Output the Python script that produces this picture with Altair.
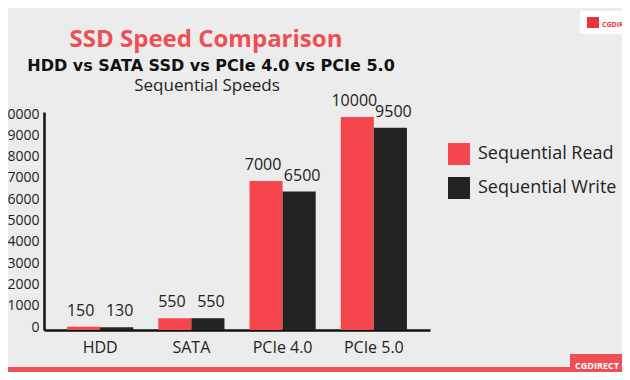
import altair as alt
import pandas as pd

categories = ["HDD", "SATA", "PCIe 4.0", "PCIe 5.0"]
series = ["Sequential Read", "Sequential Write"]
read_speeds = [150, 550, 7000, 10000]
write_speeds = [130, 550, 6500, 9500]
y_ticks = [0, 1000, 2000, 3000, 4000, 5000, 6000, 7000, 8000, 9000, 10000]
headings = ["SSD Speed Comparison", "HDD vs SATA SSD vs PCIe 4.0 vs PCIe 5.0", "Sequential Speeds"]
badge_text = "CGDIRECT"

RED = "#f5464d"
BLACK = "#232323"
FONT = "Open Sans"

rows = []
for c, r, w in zip(categories, read_speeds, write_speeds):
    rows.append({"cat": c, "series": series[0], "value": r})
    rows.append({"cat": c, "series": series[1], "value": w})
df = pd.DataFrame(rows)

x_enc = alt.X("cat:N", sort=categories, title=None,
              scale=alt.Scale(paddingInner=0.275, paddingOuter=0.253),
              axis=alt.Axis(labelAngle=0, labelFontSize=16, labelColor="#222222",
                            labelFont=FONT, labelPadding=9, ticks=False,
                            domainColor="#111111", domainWidth=2.5))
y_enc = alt.Y("value:Q", title=None,
              scale=alt.Scale(domain=[0, 10235], nice=False),
              axis=alt.Axis(values=y_ticks, format="d", labelOverlap=False,
                            labelFontSize=14, labelColor="#222222",
                            labelFont=FONT, labelPadding=5, ticks=False, grid=False,
                            domainColor="#111111", domainWidth=2.5, labelOffset=-3))
xo = alt.XOffset("series:N", sort=series, scale=alt.Scale(paddingInner=0, paddingOuter=0))

base = alt.Chart(df)
bars = base.mark_bar().encode(
    x=x_enc, y=y_enc, xOffset=xo,
    color=alt.Color("series:N", sort=series,
                    scale=alt.Scale(domain=series, range=[RED, BLACK]),
                    legend=alt.Legend(title=None, orient="none", legendX=404, legendY=31,
                                      symbolType="square", symbolSize=484,
                                      symbolStrokeWidth=0, labelFontSize=18,
                                      labelFont=FONT, labelColor="#222222",
                                      rowPadding=12, labelOffset=8)),
)
labels_read = base.transform_filter(alt.datum.series == series[0]).mark_text(
    baseline="bottom", dy=-8, dx=-3, fontSize=16, font=FONT, color="#222222").encode(
    x=x_enc, y=y_enc, xOffset=xo, text="value:Q")
labels_write = base.transform_filter(alt.datum.series == series[1]).mark_text(
    baseline="bottom", dy=-8, dx=3, fontSize=16, font=FONT, color="#222222").encode(
    x=x_enc, y=y_enc, xOffset=xo, text="value:Q")

hdf = pd.DataFrame({"t": headings, "i": [0, 1, 2]})
h1 = alt.Chart(hdf[hdf.i == 0]).mark_text(fontSize=24, fontWeight="bold", font=FONT,
                                          color="#ee4f55", align="center").encode(
    x=alt.value(162), y=alt.value(-72), text="t:N")
h2 = alt.Chart(hdf[hdf.i == 1]).mark_text(fontSize=16, fontWeight="bold", font="DejaVu Sans",
                                          color="#111111", align="center").encode(
    x=alt.value(167), y=alt.value(-46), text="t:N")
h3 = alt.Chart(hdf[hdf.i == 2]).mark_text(fontSize=17, font=FONT,
                                          color="#222222", align="center").encode(
    x=alt.value(163), y=alt.value(-26), text="t:N")

one = pd.DataFrame({"a": [0]})
stripe = alt.Chart(one).mark_rect(color="#ee4f55").encode(
    x=alt.value(-44), x2=alt.value(600), y=alt.value(255), y2=alt.value(262))
badge = alt.Chart(one).mark_rect(color="#ee4f55").encode(
    x=alt.value(526), x2=alt.value(600), y=alt.value(242), y2=alt.value(262))
badge_lbl = alt.Chart(pd.DataFrame({"t": [badge_text]})).mark_text(
    fontSize=9, fontWeight="bold", font=FONT, color="white", align="center").encode(
    x=alt.value(553), y=alt.value(254), text="t:N")
logo_bg = alt.Chart(one).mark_rect(color="white", cornerRadius=3).encode(
    x=alt.value(536), x2=alt.value(600), y=alt.value(-101), y2=alt.value(-78))
logo_mark = alt.Chart(one).mark_rect(color="#e8343b").encode(
    x=alt.value(543), x2=alt.value(555), y=alt.value(-95), y2=alt.value(-84))
logo_txt = alt.Chart(pd.DataFrame({"t": [badge_text]})).mark_text(
    fontSize=7, fontWeight="bold", font=FONT, color="#e8343b", align="left").encode(
    x=alt.value(558), y=alt.value(-87), text="t:N")

chart = alt.layer(bars, labels_read, labels_write, h1, h2, h3, stripe, badge, badge_lbl,
                  logo_bg, logo_mark, logo_txt).properties(
    width=386, height=218,
    autosize=alt.AutoSizeParams(type="none"),
    padding={"left": 36, "top": 104, "right": 192, "bottom": 42},
    background="#ececec",
).configure_view(stroke=None)

chart.save("out.html", embed_options={"renderer": "svg", "actions": False})
